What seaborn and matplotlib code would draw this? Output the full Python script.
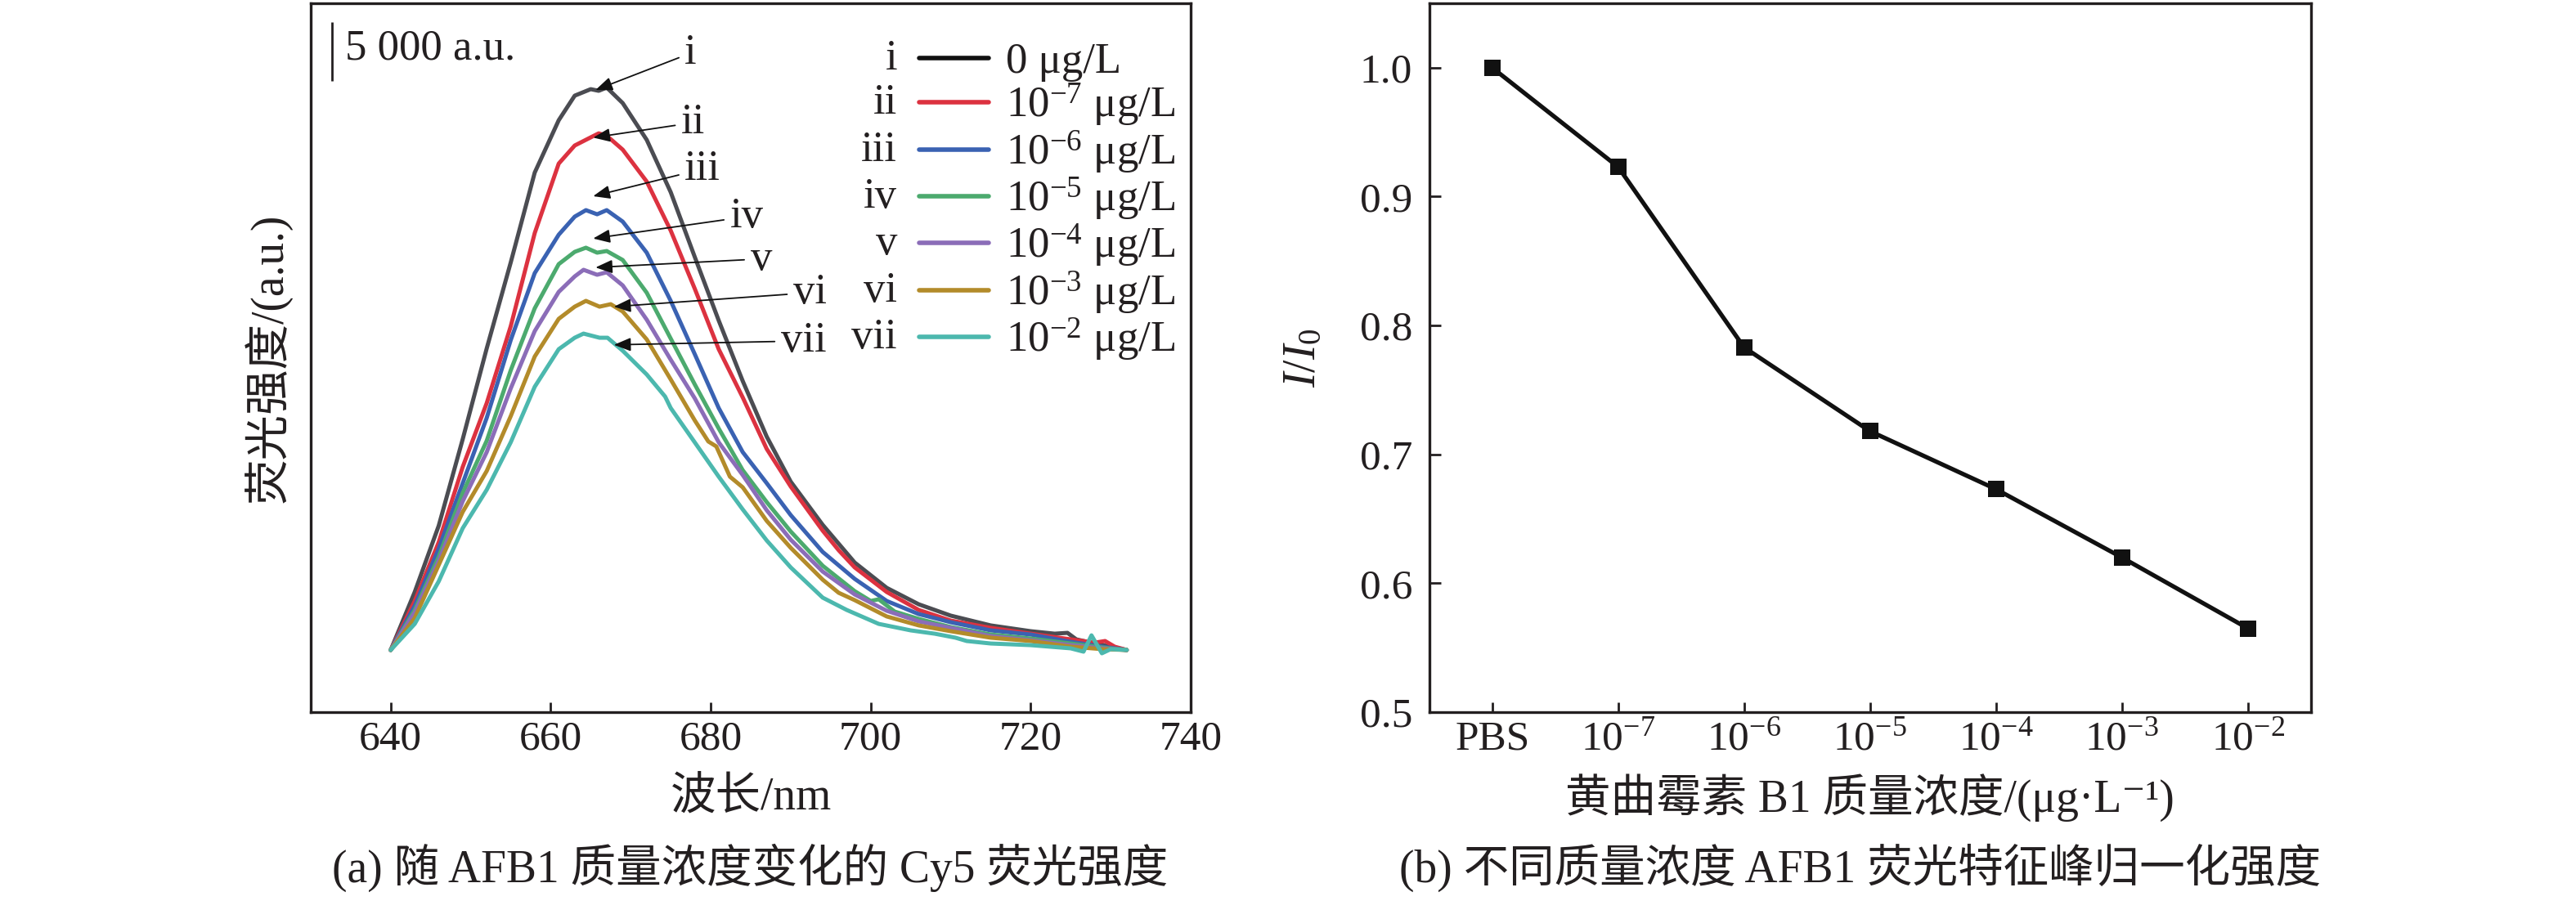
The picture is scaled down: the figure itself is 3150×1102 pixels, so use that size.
import numpy as np
import pandas as pd
import seaborn as sns
import matplotlib
matplotlib.use('Agg')
import matplotlib.pyplot as plt
from matplotlib.lines import Line2D

# ---- spectra (a): wavelength in nm, intensity in a.u. ----
wl_i = [640, 643, 646, 649, 652, 655, 658, 661, 663, 665, 666, 667, 669, 672, 675, 678, 681, 684, 687, 690,
        694, 698, 702, 706, 710, 715, 720, 723, 724.6, 725.7, 728, 730, 732]
au_i = [5260, 10170, 15780, 23110, 30790, 38060, 45670, 50100, 52180, 52730, 52590, 52870, 51550, 48440, 44010,
        38540, 33150, 28030, 23320, 19510, 15850, 12660, 10520, 9130, 8170, 7340, 6850, 6640, 6710, 6160, 5810,
        5540, 5260]

wl_ii = [640, 643, 646, 649, 652, 655, 658, 661, 663, 665, 666, 667, 669, 672, 675, 678, 681, 684, 687, 690,
         694, 696, 698, 702, 706, 710, 715, 720, 725, 728, 729.3, 730.5, 732]
au_ii = [5260, 9410, 14390, 20760, 26160, 32660, 40550, 46430, 47960, 48650, 48990, 48790, 47610, 44910, 40760,
         35850, 30720, 26640, 22280, 19100, 15360, 13700, 12250, 10170, 8650, 7750, 7130, 6640, 6160, 5880, 6020,
         5540, 5260]

wl_iii = [640, 643, 646, 649, 652, 655, 658, 661, 663, 664.4, 665.8, 667, 669, 672, 675, 678, 681, 684, 687, 690,
          694, 698, 702, 706, 708, 710, 715, 720, 725, 729, 732]
au_iii = [5260, 9000, 13840, 19380, 24910, 31490, 37160, 40410, 41940, 42490, 42140, 42490, 41520, 38890, 34810,
          30310, 25740, 22010, 19380, 16680, 13560, 11280, 9410, 8300, 7960, 7610, 6920, 6570, 5950, 5540, 5260]

wl_iv = [640, 643, 646, 649, 652, 655, 658, 661, 663, 664.4, 665.8, 667, 669, 672, 675, 678, 681, 684, 687, 690,
         694, 698, 700, 701, 703, 706, 710, 715, 720, 725, 729, 732]
au_iv = [5260, 8650, 13150, 18550, 22970, 28930, 34180, 37920, 38960, 39310, 38890, 39030, 38270, 35500, 31620,
         27750, 24010, 20480, 17780, 15290, 12390, 10240, 9410, 9550, 8510, 7890, 7200, 6570, 6230, 5810, 5470, 5260]

wl_v = [640, 643, 646, 649, 652, 655, 658, 661, 663, 664.1, 665.8, 667, 669, 672, 675, 678, 681, 684, 687, 690,
        694, 698, 702, 706, 710, 715, 720, 725, 729, 732]
au_v = [5260, 8440, 12800, 17850, 22010, 27400, 32250, 35570, 36880, 37440, 37020, 37230, 36120, 33220, 29830,
        26570, 22840, 20070, 17090, 14600, 11900, 9960, 8580, 7680, 7130, 6440, 6090, 5670, 5400, 5260]

wl_vi = [640, 643, 646, 649, 652, 655, 658, 661, 663, 664.4, 666.1, 667.5, 669, 672, 675, 678, 679.7, 680.7, 682.4,
         684, 687, 690, 694, 696, 698, 702, 706, 710, 715, 720, 725, 729, 732]
au_vi = [5260, 7960, 12460, 16950, 20410, 25050, 30100, 33290, 34320, 34810, 34320, 34530, 33910, 31550, 28160,
         24700, 22910, 22490, 19930, 19030, 16190, 13910, 11210, 10100, 9480, 8100, 7340, 6850, 6300, 6020, 5540,
         5330, 5260]

wl_vii = [640, 643, 646, 649, 652, 655, 658, 661, 663, 664.1, 666.1, 667.1, 669, 672, 674.3, 675, 678, 681, 684,
          687, 690, 694, 697, 701, 705, 708, 710.6, 712, 715, 720, 725, 726.6, 727.6, 728.9, 730, 732]
au_vii = [5260, 7470, 11070, 15570, 18820, 22840, 27540, 30720, 31690, 32040, 31690, 31690, 30590, 28580, 26710,
          25740, 22840, 19930, 17160, 14530, 12250, 9690, 8650, 7470, 6920, 6640, 6300, 6020, 5810, 5670, 5400,
          5120, 6500, 4980, 5330, 5260]

roman = ['i', 'ii', 'iii', 'iv', 'v', 'vi', 'vii']
conc_legend = ['0 μg/L', '$10^{-7}$ μg/L', '$10^{-6}$ μg/L', '$10^{-5}$ μg/L',
               '$10^{-4}$ μg/L', '$10^{-3}$ μg/L', '$10^{-2}$ μg/L']
curve_colors = ['#4b4c52', '#dc3240', '#3a62b2', '#4caa6e', '#8b6db8', '#b38b2a', '#4cb8ae']
legend_colors = ['#111111'] + curve_colors[1:]

# arrow labels: text centre and arrow tip (nm, a.u.)
ann_text_x = [677.5, 677.8, 679.0, 684.5, 686.3, 692.4, 691.6]
ann_text_y = [55780, 49890, 45970, 41940, 38360, 35500, 31420]
ann_tip_x = [665.6, 665.3, 665.3, 665.3, 665.6, 667.9, 667.9]
ann_tip_y = [52660, 48630, 43670, 40090, 37640, 34320, 31090]

# scale bar
scale_x = 632.7
scale_lo, scale_hi = 53400, 58400

# ---- (b) normalised peak intensity ----
conc_labels = ['PBS', '$10^{-7}$', '$10^{-6}$', '$10^{-5}$', '$10^{-4}$', '$10^{-3}$', '$10^{-2}$']
ratio = [1.000, 0.923, 0.783, 0.718, 0.673, 0.620, 0.565]

sns.set_style('ticks')
ink = '#231f20'
plt.rcParams['font.family'] = ['Liberation Serif', 'Noto Sans CJK SC', 'DejaVu Sans']
plt.rcParams['mathtext.fontset'] = 'custom'
plt.rcParams['mathtext.rm'] = 'Liberation Serif'
plt.rcParams['mathtext.it'] = 'Liberation Serif:italic'
plt.rcParams['text.color'] = ink
plt.rcParams['axes.labelcolor'] = ink
plt.rcParams['axes.edgecolor'] = ink
plt.rcParams['xtick.color'] = ink
plt.rcParams['ytick.color'] = ink

FS = 38
LFS = 40

frames = []
for name, w, a in zip(roman, [wl_i, wl_ii, wl_iii, wl_iv, wl_v, wl_vi, wl_vii],
                      [au_i, au_ii, au_iii, au_iv, au_v, au_vi, au_vii]):
    frames.append(pd.DataFrame({'wl': w, 'I': a, 'curve': name}))
spec = pd.concat(frames, ignore_index=True)

fig = plt.figure(figsize=(31.5, 11.02), dpi=100)
ax = fig.add_axes([0.12063, 0.20962, 0.34159, 0.78675])
ax2 = fig.add_axes([0.55483, 0.20962, 0.34222, 0.78675])

# ---------- panel (a) ----------
sns.lineplot(data=spec, x='wl', y='I', hue='curve', hue_order=roman, palette=curve_colors,
             estimator=None, sort=False, linewidth=3.6, legend=False, ax=ax)
ax.set_xlim(630, 740)
ax.set_ylim(0, 60000)
ax.set_xticks([640, 660, 680, 700, 720, 740])
ax.set_yticks([])
ax.tick_params(axis='x', direction='in', length=8.6, width=2, labelsize=37, pad=7)
for s in ax.spines.values():
    s.set_linewidth(2.4)
    s.set_visible(True)
ax.set_xlabel('波长/nm', fontsize=LFS, va='center')
ax.xaxis.set_label_coords(0.5, -0.121)
ax.set_ylabel('荧光强度/(a.u.)', fontsize=LFS, va='center')
ax.yaxis.set_label_coords(-0.0483, 0.5)

ax.vlines(scale_x, scale_lo, scale_hi, color=ink, lw=2)
ax.text(634.3, 56190, '5 000 a.u.', fontsize=FS, ha='left', va='center')

for r, tx, ty, px, py in zip(roman, ann_text_x, ann_text_y, ann_tip_x, ann_tip_y):
    ax.annotate(r, xy=(px, py), xytext=(tx, ty), ha='center', va='center', fontsize=FS,
                arrowprops=dict(arrowstyle='-|>,head_length=0.5,head_width=0.2', color='#111111',
                                lw=1.3, mutation_scale=25, shrinkA=3, shrinkB=0))

handles = [Line2D([], [], color=c, lw=4) for c in legend_colors]
leg = ax.legend(handles, conc_legend, loc='upper left', bbox_to_anchor=(0.6914, 0.9445),
                frameon=False, fontsize=FS, handlelength=1.61, handletextpad=0.40,
                labelspacing=0.0, borderpad=0, borderaxespad=0)

# ---------- panel (b) ----------
pos = np.arange(len(conc_labels))
sns.lineplot(x=pos, y=ratio, color='#111111', linewidth=3.8, marker='s', markersize=14,
             markeredgewidth=0, ax=ax2)
ax2.set_xlim(-0.5, len(conc_labels) - 0.5)
ax2.set_ylim(0.5, 1.05)
ax2.set_xticks(pos)
ax2.set_xticklabels(conc_labels)
ax2.set_yticks([0.5, 0.6, 0.7, 0.8, 0.9, 1.0])
ax2.set_yticklabels(['0.5', '0.6', '0.7', '0.8', '0.9', '1.0'])
ax2.tick_params(axis='x', direction='in', length=8.6, width=2, labelsize=37, pad=7)
ax2.tick_params(axis='y', direction='in', length=10, width=2, labelsize=37, pad=15)
for s in ax2.spines.values():
    s.set_linewidth(2.4)
    s.set_visible(True)
ax2.set_xlabel('黄曲霉素 B1 质量浓度/(μg·L⁻¹)', fontsize=LFS, va='center')
ax2.xaxis.set_label_coords(0.5, -0.121)
ax2.set_ylabel('$I/I_0$', fontsize=LFS, va='center')
ax2.yaxis.set_label_coords(-0.1426, 0.5)

fig.text(0.2910, 0.0372, '(a) 随 AFB1 质量浓度变化的 Cy5 荧光强度', fontsize=LFS, ha='center', va='center')
fig.text(0.7222, 0.0372, '(b) 不同质量浓度 AFB1 荧光特征峰归一化强度', fontsize=LFS, ha='center', va='center')

# roman numerals beside the legend lines
fig.canvas.draw()
renderer = fig.canvas.get_renderer()
inv = ax.transAxes.inverted()
for h, r in zip(leg.legend_handles, roman):
    bb = h.get_window_extent(renderer)
    yc = (bb.y0 + bb.y1) / 2
    _, ya = inv.transform((bb.x0, yc))
    ax.text(0.6664, ya - 0.0161, r, transform=ax.transAxes, ha='right', va='baseline', fontsize=FS)

fig.savefig('out.png', dpi=100)
